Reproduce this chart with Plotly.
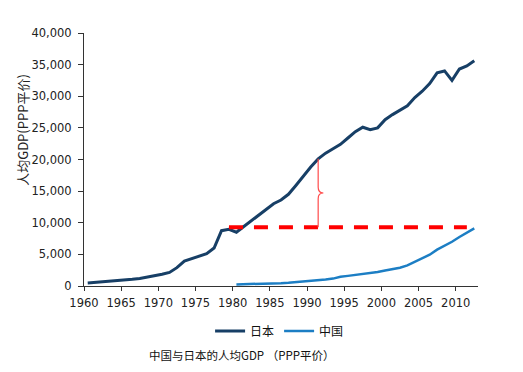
import plotly.graph_objects as go

# ---- data ----
japan_years = list(range(1960, 2013))
japan_gdp = [480, 560, 630, 720, 830, 920, 1050, 1200, 1400, 1600,
             1850, 2150, 2900, 3950, 4300, 4650, 5100, 6000, 8750, 8950,
             8500, 9400, 10300, 11100, 12000, 13000, 13600, 14500, 15900, 17400,
             18800, 20100, 21000, 21700, 22400, 23400, 24400, 25100, 24700, 25000,
             26300, 27100, 27800, 28500, 29800, 30800, 32000, 33700, 34000, 32500,
             34300, 34800, 35600]

china_years = list(range(1980, 2013))
china_gdp = [250, 270, 300, 330, 360, 400, 450, 520, 600, 680,
             760, 880, 1020, 1170, 1450, 1600, 1750, 1900, 2030, 2200,
             2450, 2650, 2900, 3250, 3800, 4300, 4950, 5750, 6350, 7000,
             7750, 8450, 9100]

ref_years = [1979, 2011]
ref_level = 9300
gap_year = 1991

x_tick_vals = list(range(1960, 2011, 5))
x_tick_text = [str(v) for v in x_tick_vals]

CAT_CENTER = 0.5  # category axis: points sit at the middle of each year slot

def cx(years):
    return [y + CAT_CENTER for y in years]

JP_COLOR = "#173F66"
CN_COLOR = "#1C7EC4"
TICK_FONT = dict(family="DejaVu Sans", size=11.5, color="#222222")
CJK = "Noto Sans CJK SC"

fig = go.Figure()
fig.add_trace(go.Scatter(x=cx(japan_years), y=japan_gdp, mode="lines", name="日本",
                         line=dict(color=JP_COLOR, width=3)))
fig.add_trace(go.Scatter(x=cx(china_years), y=china_gdp, mode="lines", name="中国",
                         line=dict(color=CN_COLOR, width=2.5)))
fig.add_trace(go.Scatter(x=cx(ref_years), y=[ref_level, ref_level], mode="lines",
                         showlegend=False, hoverinfo="skip",
                         line=dict(color="#FF0000", width=4, dash="14px,11px")))

# red brace between the reference level and Japan in gap_year
bx = gap_year + CAT_CENTER
y_top = japan_gdp[japan_years.index(gap_year)]
y_bot = ref_level
y_mid = (y_top + y_bot) / 2
d = 900
dx = 0.7
path = (f"M {bx} {y_bot} L {bx} {y_mid - d} "
        f"Q {bx} {y_mid} {bx + dx} {y_mid} "
        f"Q {bx} {y_mid} {bx} {y_mid + d} L {bx} {y_top}")
fig.add_shape(type="path", path=path, xref="x", yref="y",
              line=dict(color="#FF4B4B", width=1.2))

# page body has an 8px margin, so the figure is 8px smaller than the window
fig.update_layout(
    width=515, height=364,
    margin=dict(l=76, r=45, t=25, b=86, autoexpand=False),
    paper_bgcolor="white", plot_bgcolor="white",
    showlegend=True,
    legend=dict(orientation="h", x=0.32, y=-0.178, xanchor="left", yanchor="middle",
                font=dict(family=CJK, size=12, color="#111111"),
                itemwidth=30, bgcolor="rgba(0,0,0,0)"),
    xaxis=dict(range=[1960, 2013], tickmode="array", tickvals=x_tick_vals,
               ticktext=x_tick_text, showgrid=False, zeroline=False,
               showline=True, linecolor="#333333", linewidth=1,
               ticks="outside", ticklen=4, tickcolor="#333333",
               tickfont=TICK_FONT, ticklabelstandoff=2, automargin=False),
    yaxis=dict(range=[0, 40000], dtick=5000, tickformat=",", showgrid=False,
               zeroline=False, showline=True, linecolor="#333333", linewidth=1,
               ticks="outside", ticklen=5, tickcolor="#333333",
               tickfont=TICK_FONT, ticklabelstandoff=4, automargin=False),
)

fig.add_annotation(text="人均GDP(PPP平价)", textangle=-90, xref="paper", yref="paper",
                   x=-0.155, y=0.617, xanchor="center", yanchor="middle", showarrow=False,
                   font=dict(family=CJK, size=13, color="#222222"))
fig.add_annotation(text="中国与日本的人均GDP （PPP平价）", xref="paper", yref="paper",
                   x=0.4015, y=-0.273, xanchor="center", yanchor="middle", showarrow=False,
                   font=dict(family=CJK, size=11.5, color="#111111"))

fig.write_html("out.html")
